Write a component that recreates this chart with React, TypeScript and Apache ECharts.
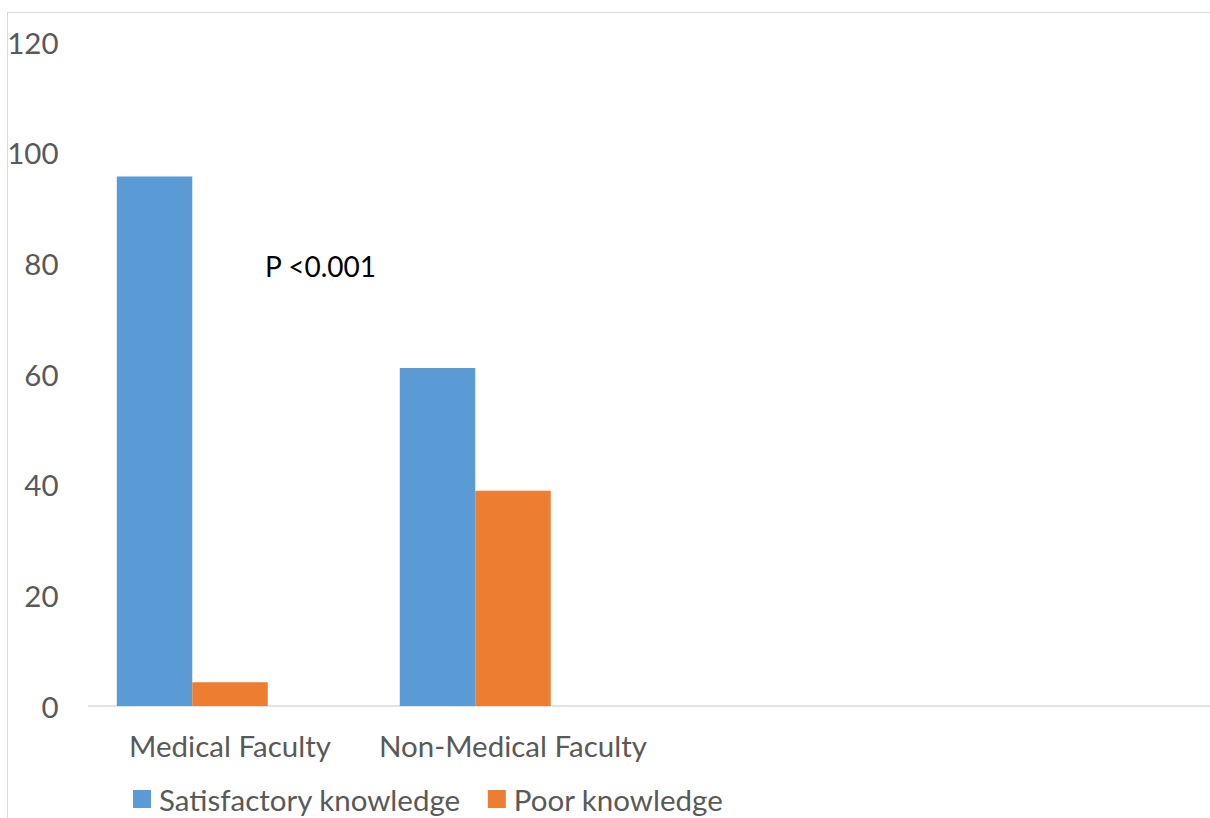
import React, { useEffect, useRef } from "react";
import * as echarts from "echarts";

const categories = ["Medical Faculty", "Non-Medical Faculty", "", ""];
const satisfactory = [95.7, 61.1, null, null];
const poor = [4.3, 38.9, null, null];
const emptySeries = [null, null, null, null];
const yTicks = { min: 0, max: 120, interval: 20 };
const annotation = "P <0.001";

const FONT = "Lato, 'Open Sans', sans-serif";

export default function App() {
  const ref = useRef<HTMLDivElement>(null);
  useEffect(() => {
    if (!ref.current) return;
    const chart = echarts.init(ref.current, undefined, { renderer: "svg" });
    chart.setOption({
      animation: false,
      textStyle: { fontFamily: FONT },
      grid: { left: 80.5, top: 29, width: 1132, height: 664, containLabel: false, outerBoundsMode: "none" },
      legend: {
        data: ["Satisfactory knowledge", "Poor knowledge"],
        left: 125,
        top: 771,
        padding: 0,
        itemWidth: 18,
        itemHeight: 18,
        itemGap: 27,
        icon: "rect",
        textStyle: {
          fontSize: 29.5,
          lineHeight: 30,
          color: "#595959",
          fontFamily: FONT,
          padding: [0, 0, 0, 3],
        },
      },
      xAxis: {
        type: "category",
        data: categories,
        axisLine: { lineStyle: { color: "#d9d9d9", width: 1.5 } },
        axisTick: { show: false },
        axisLabel: { fontSize: 29.5, color: "#595959", margin: 24, fontFamily: FONT, interval: 0 },
      },
      yAxis: {
        type: "value",
        min: yTicks.min,
        max: yTicks.max,
        interval: yTicks.interval,
        splitLine: { show: false },
        axisLine: { show: false },
        axisTick: { show: false },
        axisLabel: { fontSize: 29.5, color: "#595959", margin: 30, fontFamily: FONT, padding: [0, 0, 4, 0] },
      },
      series: [
        {
          name: "Satisfactory knowledge",
          type: "bar",
          data: satisfactory,
          itemStyle: { color: "#5b9bd5" },
          barGap: "0%",
          barCategoryGap: "20%",
        },
        {
          name: "Poor knowledge",
          type: "bar",
          data: poor,
          itemStyle: { color: "#ed7d31" },
        },
        {
          name: "hidden",
          type: "bar",
          data: emptySeries,
          itemStyle: { color: "#a5a5a5" },
        },
      ],
      graphic: [
        {
          type: "text",
          left: 257,
          top: 239,
          style: { text: annotation, fontSize: 28, fill: "#000000", fontFamily: FONT },
        },
      ],
    });
    return () => chart.dispose();
  }, []);
  return (
    <div style={{ position: "fixed", left: 0, top: 0, width: 1210, height: 818, overflow: "hidden", background: "#fff" }}>
      <div
        style={{
          position: "absolute",
          left: 7,
          top: 12,
          borderLeft: "1px solid #d9d9d9",
          borderTop: "1px solid #d9d9d9",
          width: 1240,
          height: 830,
        }}
      >
        <div ref={ref} style={{ width: 1240, height: 830 }} />
      </div>
    </div>
  );
}
